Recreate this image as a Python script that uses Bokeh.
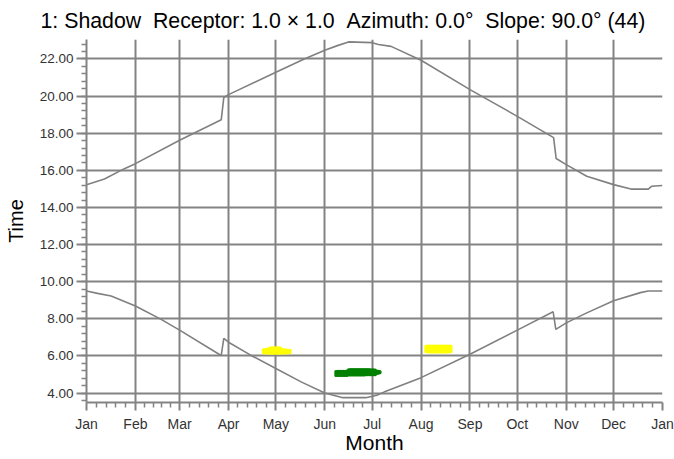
from bokeh.plotting import figure
from bokeh.models import FixedTicker, PrintfTickFormatter, Range1d
from bokeh.embed import file_html
from bokeh.resources import INLINE

# ---- data ----
month_names = ["Jan", "Feb", "Mar", "Apr", "May", "Jun", "Jul", "Aug", "Sep", "Oct", "Nov", "Dec", "Jan"]
month_starts = [0, 31, 59, 90, 120, 151, 181, 212, 243, 273, 304, 334, 365]
time_ticks = [4, 6, 8, 10, 12, 14, 16, 18, 20, 22]

upper_day = [0, 11.4, 24, 31, 59, 85.4, 87, 90, 120, 138, 151, 159, 166, 181, 185, 193,
             212, 243, 273, 296, 297.6, 304, 317, 334, 345, 356, 358, 365]
upper_time = [15.22, 15.53, 16.09, 16.36, 17.62, 18.73, 19.92, 20.08, 21.28, 22.0, 22.47, 22.72,
              22.92, 22.88, 22.78, 22.68, 21.93, 20.35, 18.91, 17.76, 16.64, 16.31, 15.68, 15.23,
              14.99, 14.99, 15.14, 15.18]

lower_day = [0, 7, 15.6, 31, 47.3, 59, 84, 85.4, 87, 90, 104, 120, 136, 151, 162.5, 177, 184,
             188.5, 212, 243, 273, 295.7, 297.4, 304, 317, 334, 351, 356, 365]
lower_time = [9.5, 9.37, 9.23, 8.69, 7.97, 7.39, 6.09, 6.04, 6.94, 6.74, 6.04, 5.32, 4.6, 4.0,
              3.75, 3.75, 3.88, 4.05, 4.83, 6.09, 7.39, 8.38, 7.43, 7.78, 8.32, 8.97, 9.41, 9.5, 9.5]

# shadow periods (per day: start / end time)
spring_day = [112, 113, 114, 115, 116, 117, 118, 119, 120, 121, 122, 123, 124, 125, 126, 127, 128, 129]
spring_start = [6.17, 6.16, 6.16, 6.16, 6.15, 6.15, 6.15, 6.15, 6.15, 6.15, 6.15, 6.15, 6.16, 6.16,
                6.16, 6.16, 6.17, 6.17]
spring_end = [6.33, 6.35, 6.36, 6.37, 6.43, 6.44, 6.44, 6.44, 6.44, 6.44, 6.44, 6.43, 6.34, 6.33,
              6.33, 6.32, 6.31, 6.30]

summer_day = [158, 159, 160, 161, 162, 163, 164, 165, 166, 167, 168, 169, 170, 171, 172, 173, 174,
              175, 176, 177, 178, 179, 180, 181, 182, 183, 184, 185, 186]
summer_start = [4.95, 4.94, 4.94, 4.94, 4.94, 4.94, 4.94, 4.95, 4.97, 4.97, 4.97, 4.97, 4.97, 4.97,
                4.97, 4.97, 4.97, 4.97, 4.97, 4.98, 4.98, 4.98, 4.98, 4.98, 4.99, 4.99, 5.05, 5.07, 5.09]
summer_end = [5.16, 5.18, 5.18, 5.18, 5.18, 5.18, 5.18, 5.19, 5.26, 5.27, 5.27, 5.27, 5.27, 5.27,
              5.27, 5.27, 5.27, 5.27, 5.27, 5.27, 5.27, 5.27, 5.26, 5.26, 5.25, 5.24, 5.19, 5.18, 5.16]

autumn_day = [215, 216, 217, 218, 219, 220, 221, 222, 223, 224, 225, 226, 227, 228, 229, 230, 231]
autumn_start = [6.23, 6.22, 6.21, 6.21, 6.21, 6.21, 6.21, 6.21, 6.21, 6.21, 6.21, 6.21, 6.21, 6.21,
                6.21, 6.22, 6.23]
autumn_end = [6.52, 6.53, 6.54, 6.54, 6.54, 6.54, 6.54, 6.54, 6.54, 6.54, 6.54, 6.54, 6.54, 6.54,
              6.54, 6.53, 6.52]

title_text = "1: Shadow\u00a0\u00a0Receptor: 1.0 \u00d7 1.0\u00a0\u00a0Azimuth: 0.0\u00b0\u00a0\u00a0Slope: 90.0\u00b0 (44)"

# ---- tick helpers ----
minor_x = []
for a, b in zip(month_starts[:-1], month_starts[1:]):
    for k in range(1, 5):
        minor_x.append(a + k * (b - a) / 5.0)
minor_y = [3.6 + 0.4 * i for i in range(50)]

GRID = "#838383"
FONT = "Liberation Sans"
Y0, Y1 = 3.49, 23.05

p = figure(width=674, height=459,
           x_range=Range1d(0, 365), y_range=Range1d(Y0, Y1),
           output_backend="svg", toolbar_location=None,
           min_border_left=86, min_border_right=12, min_border_top=39, min_border_bottom=57)

p.background_fill_color = "white"
p.border_fill_color = "white"
p.outline_line_color = None

p.title.text = title_text
p.title.text_font = FONT
p.title.text_font_size = "21.3px"
p.title.text_font_style = "normal"
p.title.text_color = "black"
p.title.align = "left"
p.title.offset = -46
p.title.standoff = 10
p.title.vertical_align = "top"

# axes
p.xaxis.ticker = FixedTicker(ticks=month_starts, minor_ticks=minor_x)
p.xaxis.major_label_overrides = {m: n for m, n in zip(month_starts, month_names)}
p.yaxis.ticker = FixedTicker(ticks=time_ticks, minor_ticks=minor_y)
p.yaxis.formatter = PrintfTickFormatter(format="%.2f")

for ax in (p.xaxis[0], p.yaxis[0]):
    ax.axis_line_color = GRID
    ax.axis_line_width = 2
    ax.major_tick_line_color = GRID
    ax.major_tick_line_width = 2
    ax.minor_tick_line_color = GRID
    ax.minor_tick_line_width = 1.5
    ax.major_tick_in = 0
    ax.minor_tick_in = 0
    ax.minor_tick_out = 5
    ax.major_label_text_font = FONT
    ax.major_label_text_color = "#333333"
    ax.major_label_text_font_size = "14px"
    ax.axis_label_text_font = FONT
    ax.axis_label_text_font_style = "normal"
    ax.axis_label_text_color = "black"

p.yaxis.major_tick_out = 10
p.xaxis.major_tick_out = 8
p.yaxis.major_label_text_font_size = "13.5px"
p.yaxis.axis_label_text_font_size = "20px"
p.xaxis.axis_label_text_font_size = "21px"

p.xaxis.axis_label = "Month"
p.yaxis.axis_label = "Time"
p.xaxis.major_label_standoff = 5
p.yaxis.major_label_standoff = 3
p.xaxis.axis_label_standoff = -4
p.yaxis.axis_label_standoff = 10

p.xgrid.ticker = FixedTicker(ticks=month_starts[:-1])
p.ygrid.ticker = FixedTicker(ticks=time_ticks)
for g in (p.xgrid[0], p.ygrid[0]):
    g.grid_line_color = GRID
    g.grid_line_width = 2

# curves
p.line(upper_day, upper_time, line_color="#808080", line_width=1.6)
p.line(lower_day, lower_time, line_color="#808080", line_width=1.6)

# shadow blobs
p.segment(x0=spring_day, y0=spring_start, x1=spring_day, y1=spring_end,
          line_color="#ffff00", line_width=3, line_cap="round")
p.segment(x0=summer_day, y0=summer_start, x1=summer_day, y1=summer_end,
          line_color="#008000", line_width=3, line_cap="round")
p.segment(x0=autumn_day, y0=autumn_start, x1=autumn_day, y1=autumn_end,
          line_color="#ffff00", line_width=3, line_cap="round")

open("out.html", "w").write(file_html(p, INLINE))
